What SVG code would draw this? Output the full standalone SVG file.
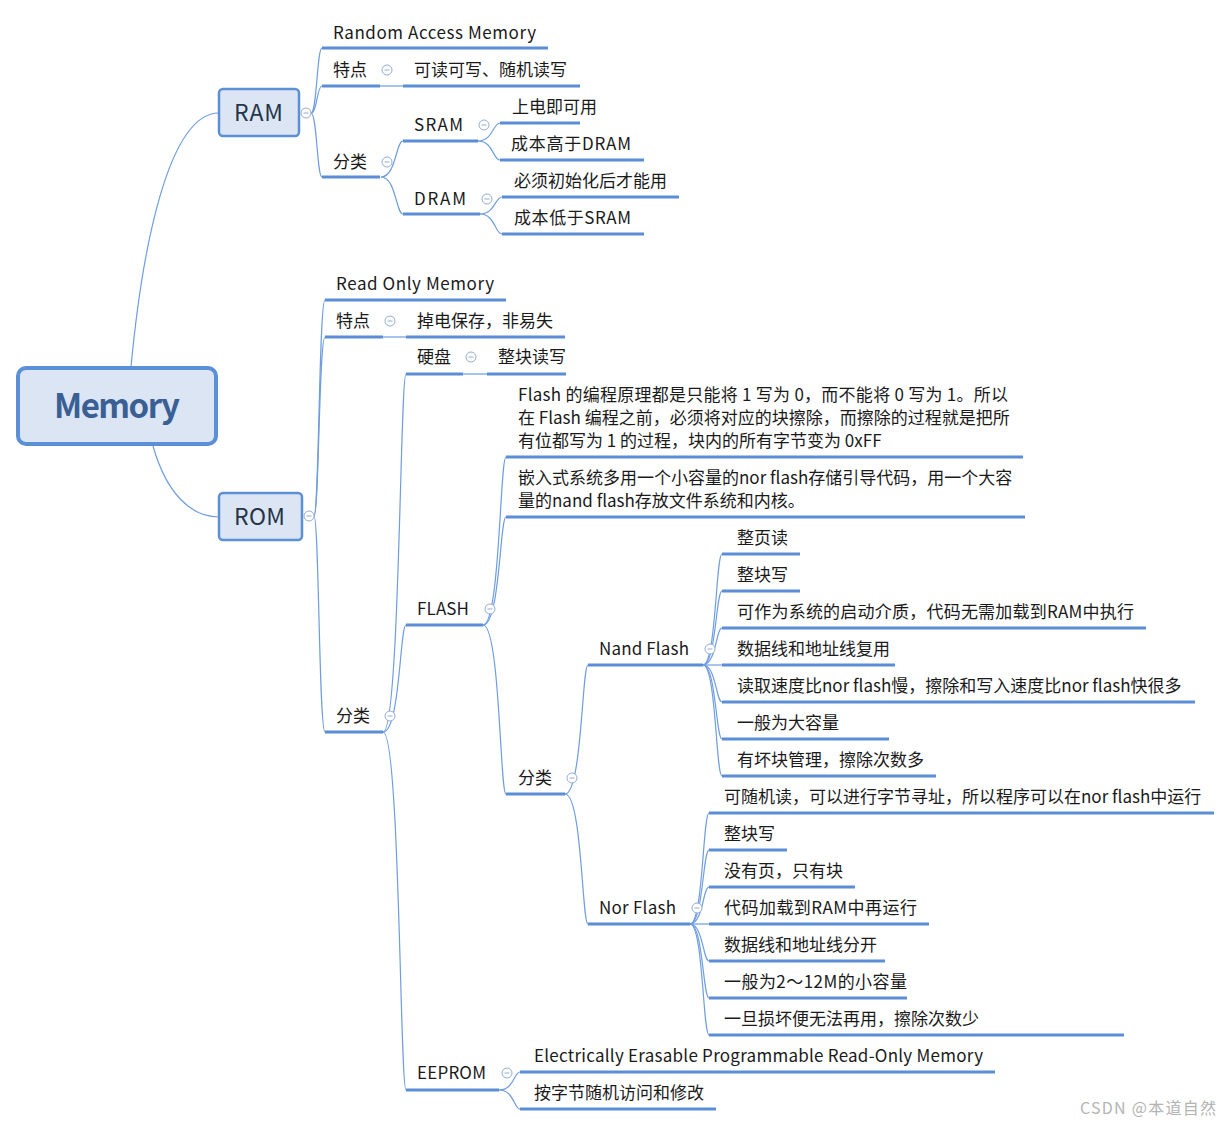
<svg xmlns="http://www.w3.org/2000/svg" width="1232" height="1126" viewBox="0 0 1232 1126">
<style>
text{font-family:"Noto Sans CJK SC","Microsoft YaHei",sans-serif;font-size:17px;fill:#1a1a1a}
.ul{stroke:#5b8ed6;stroke-width:3;fill:none}
.c{stroke:#6e9de0;stroke-width:1.2;fill:none}
.ic{stroke:#93acd4;stroke-width:1;fill:#fff}
.box{fill:#dbe5f3;stroke:#5d8fd4;stroke-width:2.5}
.big{font-size:23px;fill:#263447}
.wm{font-size:16px;fill:#b4b4b4}
</style>
<defs>
<g id="icon"><circle cx="0" cy="0" r="5" class="ic"/><line x1="-2.5" y1="0" x2="2.5" y2="0" stroke="#93acd4" stroke-width="1"/></g>
</defs>
<rect width="1232" height="1126" fill="#fff"/>

<g id="connectors">
<path class="c" d="M131,367 C142,250 168,113 219,113"/>
<path class="c" d="M153,446 C166,492 190,517 219,517"/>
<path class="c" d="M311,113 C317,113 317,48 322,48"/>
<path class="c" d="M311,113 C317,113 317,86 322,86"/>
<path class="c" d="M311,113 C317,113 317,177 322,177"/>
<path class="c" d="M380,86 H403"/>
<path class="c" d="M381,177 C396,177 396,141 403,141"/>
<path class="c" d="M381,177 C396,177 396,214 403,214"/>
<path class="c" d="M478,141 C493,141 493,123 500,123"/>
<path class="c" d="M478,141 C493,141 493,160 500,160"/>
<path class="c" d="M480,214 C495,214 495,197 502,197"/>
<path class="c" d="M480,214 C495,214 495,234 502,234"/>
<path class="c" d="M314,516 C319,516 319,300 325,300"/>
<path class="c" d="M314,516 C319,516 319,337 325,337"/>
<path class="c" d="M314,516 C319,516 319,732 325,732"/>
<path class="c" d="M383,337 H406"/>
<path class="c" d="M383,732 C400,732 400,374 406,374"/>
<path class="c" d="M383,732 C400,732 400,625 406,625"/>
<path class="c" d="M383,732 C400,732 400,1090 406,1090"/>
<path class="c" d="M463,374 H487"/>
<path class="c" d="M483,625 C500,625 500,457 506,457"/>
<path class="c" d="M483,625 C500,625 500,517 506,517"/>
<path class="c" d="M483,625 C500,625 500,794 506,794"/>
<path class="c" d="M499,1090 C514,1090 514,1072 520,1072"/>
<path class="c" d="M499,1090 C514,1090 514,1109 520,1109"/>
<path class="c" d="M565,794 C582,794 582,665 588,665"/>
<path class="c" d="M565,794 C582,794 582,924 588,924"/>
<path class="c" d="M703,665 C716,665 716,554 722,554"/>
<path class="c" d="M703,665 C716,665 716,591 722,591"/>
<path class="c" d="M703,665 C716,665 716,628 722,628"/>
<path class="c" d="M703,665 H722"/>
<path class="c" d="M703,665 C716,665 716,702 722,702"/>
<path class="c" d="M703,665 C716,665 716,739 722,739"/>
<path class="c" d="M703,665 C716,665 716,776 722,776"/>
<path class="c" d="M690,924 C703,924 703,813 709,813"/>
<path class="c" d="M690,924 C703,924 703,850 709,850"/>
<path class="c" d="M690,924 C703,924 703,887 709,887"/>
<path class="c" d="M690,924 H709"/>
<path class="c" d="M690,924 C703,924 703,961 709,961"/>
<path class="c" d="M690,924 C703,924 703,998 709,998"/>
<path class="c" d="M690,924 C703,924 703,1035 709,1035"/>
</g>

<g id="memory"><rect x="18" y="368" width="198" height="76" rx="8" fill="#dbe5f3" stroke="#5b8fd6" stroke-width="4"/><text x="54" y="418" textLength="126" style="font-size:33px;font-weight:bold;fill:#3a5f94">Memory</text></g>

<g id="ram"><rect class="box" x="219" y="89" width="80" height="47" rx="4"/><text class="big" x="234" y="121" textLength="49">RAM</text><use href="#icon" x="306" y="113"/></g>
<g id="ram-full"><text x="333" y="39" textLength="203">Random Access Memory</text><line class="ul" x1="322" y1="48" x2="548" y2="48"/></g>
<g id="ram-feat"><text x="333" y="76">特点</text><line class="ul" x1="322" y1="86" x2="380" y2="86"/><use href="#icon" x="387" y="70"/></g>
<g id="ram-feat-1"><text x="414" y="76">可读可写、随机读写</text><line class="ul" x1="403" y1="86" x2="580" y2="86"/></g>
<g id="ram-cls"><text x="333" y="168">分类</text><line class="ul" x1="322" y1="177" x2="380" y2="177"/><use href="#icon" x="387" y="162"/></g>
<g id="sram"><text x="414" y="131" textLength="49">SRAM</text><line class="ul" x1="403" y1="141" x2="478" y2="141"/><use href="#icon" x="484" y="125"/></g>
<g id="sram-1"><text x="512" y="113">上电即可用</text><line class="ul" x1="500" y1="123" x2="580" y2="123"/></g>
<g id="sram-2"><text x="511" y="150" textLength="120">成本高于DRAM</text><line class="ul" x1="500" y1="160" x2="644" y2="160"/></g>
<g id="dram"><text x="414" y="205" textLength="52">DRAM</text><line class="ul" x1="403" y1="214" x2="480" y2="214"/><use href="#icon" x="487" y="199"/></g>
<g id="dram-1"><text x="514" y="187">必须初始化后才能用</text><line class="ul" x1="502" y1="197" x2="679" y2="197"/></g>
<g id="dram-2"><text x="514" y="224" textLength="117">成本低于SRAM</text><line class="ul" x1="502" y1="234" x2="644" y2="234"/></g>

<g id="rom"><rect class="box" x="219" y="493" width="83" height="47" rx="4"/><text class="big" x="234" y="525" textLength="51">ROM</text><use href="#icon" x="309" y="516"/></g>
<g id="rom-full"><text x="336" y="290" textLength="158">Read Only Memory</text><line class="ul" x1="325" y1="300" x2="506" y2="300"/></g>
<g id="rom-feat"><text x="336" y="327">特点</text><line class="ul" x1="325" y1="337" x2="383" y2="337"/><use href="#icon" x="390" y="321"/></g>
<g id="rom-feat-1"><text x="417" y="327">掉电保存，非易失</text><line class="ul" x1="406" y1="337" x2="565" y2="337"/></g>
<g id="rom-cls"><text x="336" y="722">分类</text><line class="ul" x1="325" y1="732" x2="383" y2="732"/><use href="#icon" x="390" y="716"/></g>
<g id="disk"><text x="417" y="363">硬盘</text><line class="ul" x1="406" y1="374" x2="463" y2="374"/><use href="#icon" x="471" y="357"/></g>
<g id="disk-1"><text x="498" y="363">整块读写</text><line class="ul" x1="487" y1="374" x2="566" y2="374"/></g>
<g id="flash"><text x="417" y="615" textLength="52">FLASH</text><line class="ul" x1="406" y1="625" x2="483" y2="625"/><use href="#icon" x="490" y="609"/></g>
<g id="flash-1"><text x="518" y="401" textLength="490">Flash 的编程原理都是只能将 1 写为 0，而不能将 0 写为 1。所以</text><text x="518" y="424">在 Flash 编程之前，必须将对应的块擦除，而擦除的过程就是把所</text><text x="518" y="447">有位都写为 1 的过程，块内的所有字节变为 0xFF</text><line class="ul" x1="506" y1="457" x2="1023" y2="457"/></g>
<g id="flash-2"><text x="518" y="484">嵌入式系统多用一个小容量的nor flash存储引导代码，用一个大容</text><text x="518" y="507">量的nand flash存放文件系统和内核。</text><line class="ul" x1="506" y1="517" x2="1025" y2="517"/></g>
<g id="flash-cls"><text x="518" y="784">分类</text><line class="ul" x1="506" y1="794" x2="565" y2="794"/><use href="#icon" x="572" y="778"/></g>
<g id="nand"><text x="599" y="655" textLength="90">Nand Flash</text><line class="ul" x1="588" y1="665" x2="703" y2="665"/><use href="#icon" x="710" y="649"/></g>
<g id="nand-1"><text x="737" y="544">整页读</text><line class="ul" x1="722" y1="554" x2="800" y2="554"/></g>
<g id="nand-2"><text x="737" y="581">整块写</text><line class="ul" x1="722" y1="591" x2="800" y2="591"/></g>
<g id="nand-3"><text x="737" y="618" textLength="397">可作为系统的启动介质，代码无需加载到RAM中执行</text><line class="ul" x1="722" y1="628" x2="1146" y2="628"/></g>
<g id="nand-4"><text x="737" y="655">数据线和地址线复用</text><line class="ul" x1="722" y1="665" x2="895" y2="665"/></g>
<g id="nand-5"><text x="737" y="692">读取速度比nor flash慢，擦除和写入速度比nor flash快很多</text><line class="ul" x1="722" y1="702" x2="1195" y2="702"/></g>
<g id="nand-6"><text x="737" y="729">一般为大容量</text><line class="ul" x1="722" y1="739" x2="889" y2="739"/></g>
<g id="nand-7"><text x="737" y="766">有坏块管理，擦除次数多</text><line class="ul" x1="722" y1="776" x2="936" y2="776"/></g>
<g id="nor"><text x="599" y="914" textLength="77">Nor Flash</text><line class="ul" x1="588" y1="924" x2="690" y2="924"/><use href="#icon" x="697" y="908"/></g>
<g id="nor-1"><text x="724" y="803">可随机读，可以进行字节寻址，所以程序可以在nor flash中运行</text><line class="ul" x1="709" y1="813" x2="1214" y2="813"/></g>
<g id="nor-2"><text x="724" y="840">整块写</text><line class="ul" x1="709" y1="850" x2="787" y2="850"/></g>
<g id="nor-3"><text x="724" y="877">没有页，只有块</text><line class="ul" x1="709" y1="887" x2="855" y2="887"/></g>
<g id="nor-4"><text x="724" y="914" textLength="193">代码加载到RAM中再运行</text><line class="ul" x1="709" y1="924" x2="929" y2="924"/></g>
<g id="nor-5"><text x="724" y="951">数据线和地址线分开</text><line class="ul" x1="709" y1="961" x2="885" y2="961"/></g>
<g id="nor-6"><text x="724" y="988" textLength="183">一般为2～12M的小容量</text><line class="ul" x1="709" y1="998" x2="907" y2="998"/></g>
<g id="nor-7"><text x="724" y="1025">一旦损坏便无法再用，擦除次数少</text><line class="ul" x1="709" y1="1035" x2="1124" y2="1035"/></g>
<g id="eeprom"><text x="417" y="1079" textLength="69">EEPROM</text><line class="ul" x1="406" y1="1090" x2="499" y2="1090"/><use href="#icon" x="507" y="1073"/></g>
<g id="eeprom-1"><text x="534" y="1062" textLength="449">Electrically Erasable Programmable Read-Only Memory</text><line class="ul" x1="520" y1="1072" x2="995" y2="1072"/></g>
<g id="eeprom-2"><text x="534" y="1099">按字节随机访问和修改</text><line class="ul" x1="520" y1="1109" x2="716" y2="1109"/></g>

<text class="wm" x="1080" y="1114" textLength="136">CSDN @本道自然</text>
</svg>
